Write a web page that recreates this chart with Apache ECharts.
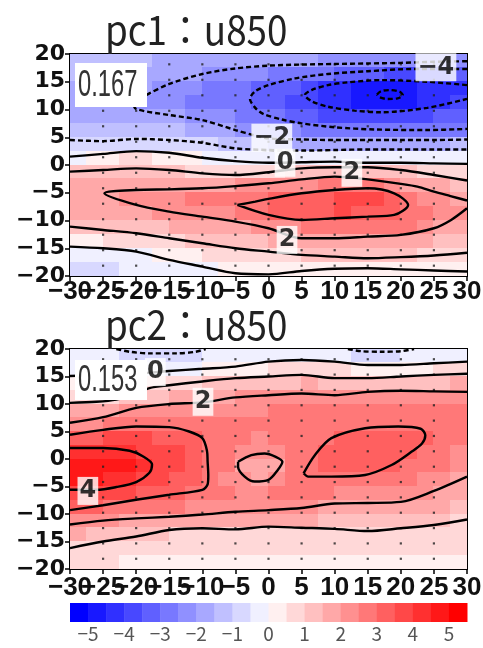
<!DOCTYPE html>
<html>
<head>
<meta charset="utf-8">
<script src="https://cdn.jsdelivr.net/npm/echarts@6/dist/echarts.min.js"></script>
<style>
html, body { margin: 0; padding: 0; background: #fff; }
#main { width: 483px; height: 648px; }
</style>
</head>
<body>
<div id="main"></div>
<script>
// cell centres of the shaded field (2.5 deg)
var cellX = [-28.75, -26.25, -23.75, -21.25, -18.75, -16.25, -13.75, -11.25, -8.75, -6.25, -3.75, -1.25,
             1.25, 3.75, 6.25, 8.75, 11.25, 13.75, 16.25, 18.75, 21.25, 23.75, 26.25, 28.75];
var cellY = [18.75, 16.25, 13.75, 11.25, 8.75, 6.25, 3.75, 1.25, -1.25, -3.75, -6.25, -8.75, -11.25, -13.75, -16.25, -18.75];

// pc1 : u850 (rows follow cellY, columns follow cellX)
var pc1Field = [
  [-1.3,-1.35,-1.4,-1.45,-1.5,-1.6,-1.7,-1.75,-1.8,-1.85,-1.9,-1.9,-1.9,-1.95,-2.0,-2.05,-2.1,-2.15,-2.2,-2.2,-2.25,-2.3,-2.35,-2.4],
  [-1.5,-1.55,-1.6,-1.65,-1.7,-1.8,-1.9,-2.0,-2.1,-2.2,-2.3,-2.45,-2.6,-2.75,-2.9,-3.0,-3.1,-3.3,-3.5,-3.6,-3.6,-3.6,-3.55,-3.5],
  [-1.7,-1.75,-1.8,-1.9,-1.95,-2.1,-2.3,-2.45,-2.6,-2.7,-2.8,-3.05,-3.3,-3.5,-3.85,-4.05,-4.3,-4.6,-4.8,-4.95,-4.8,-4.5,-4.35,-4.2],
  [-1.8,-1.85,-1.9,-2.0,-2.1,-2.3,-2.5,-2.6,-2.7,-2.8,-2.95,-3.2,-3.5,-3.7,-3.9,-4.15,-4.5,-4.6,-4.8,-4.9,-4.7,-4.3,-4.15,-3.95],
  [-1.7,-1.75,-1.8,-1.85,-1.9,-1.95,-2.0,-2.15,-2.3,-2.45,-2.6,-2.85,-3.0,-3.2,-3.4,-3.55,-3.7,-3.75,-3.8,-3.9,-3.8,-3.6,-3.5,-3.4],
  [-1.4,-1.45,-1.5,-1.5,-1.5,-1.5,-1.5,-1.6,-1.7,-1.95,-2.05,-2.15,-2.3,-2.45,-2.6,-2.7,-2.8,-2.85,-2.9,-2.9,-2.9,-2.9,-2.9,-2.9],
  [-0.8,-0.75,-0.7,-0.65,-0.6,-0.7,-0.8,-0.9,-1.0,-1.1,-1.2,-1.4,-1.6,-1.6,-1.6,-1.6,-1.6,-1.6,-1.6,-1.6,-1.6,-1.6,-1.55,-1.5],
  [-0.05,0.1,0.4,0.5,0.5,0.4,0.3,0.1,-0.05,-0.15,-0.2,-0.3,-0.4,-0.4,-0.4,-0.35,-0.3,-0.3,-0.3,-0.3,-0.3,-0.3,-0.3,-0.3],
  [1.0,1.05,1.1,1.15,1.2,1.1,1.0,0.95,0.9,0.85,0.85,0.85,0.9,1.0,1.1,1.2,1.3,1.3,1.3,1.2,1.0,0.85,0.65,0.55],
  [1.5,1.6,1.7,1.75,1.8,1.8,1.8,1.85,1.9,1.95,2.05,2.1,2.2,2.3,2.4,2.5,2.6,2.65,2.65,2.35,1.95,1.7,1.5,1.3],
  [1.7,1.8,1.95,2.1,2.2,2.3,2.4,2.5,2.6,2.7,2.8,2.9,3.0,3.15,3.3,3.4,3.5,3.5,3.5,3.3,2.95,2.4,2.2,1.95],
  [1.6,1.7,1.8,1.85,1.9,2.0,2.0,2.1,2.2,2.4,2.6,2.9,3.1,3.3,3.4,3.45,3.5,3.45,3.4,3.2,2.9,2.6,2.3,2.0],
  [1.0,1.1,1.2,1.25,1.3,1.4,1.5,1.6,1.7,1.8,1.9,2.1,2.3,2.45,2.6,2.65,2.7,2.7,2.7,2.6,2.5,2.2,1.95,1.7],
  [0.3,0.4,0.55,0.6,0.7,0.8,0.9,1.0,1.1,1.2,1.3,1.45,1.6,1.7,1.8,1.85,1.9,1.9,1.9,1.9,1.8,1.6,1.45,1.3],
  [-0.3,-0.3,-0.3,-0.2,-0.05,0.15,0.3,0.4,0.5,0.6,0.7,0.8,0.9,0.95,1.0,1.05,1.1,1.1,1.1,1.1,1.05,0.95,0.9,0.9],
  [-0.6,-0.6,-0.55,-0.5,-0.45,-0.3,-0.2,-0.1,-0.05,0.0,0.05,0.15,0.15,0.15,0.05,0.05,0.05,0.05,0.05,0.05,0.05,0.05,0.05,0.05]
];

// pc2 : u850
var pc2Field = [
  [-0.3,-0.3,-0.35,-0.7,-0.85,-0.9,-0.85,-0.6,-0.4,-0.35,-0.3,-0.25,-0.2,-0.15,-0.15,-0.2,-0.3,-0.8,-0.85,-0.8,-0.5,-0.3,-0.25,-0.2],
  [-0.1,-0.1,-0.1,-0.1,-0.1,-0.1,-0.1,-0.05,0.0,0.05,0.1,0.3,0.5,0.55,0.6,0.55,0.5,0.4,0.3,0.3,0.35,0.45,0.5,0.6],
  [0.3,0.35,0.4,0.45,0.5,0.65,0.8,0.95,1.1,1.2,1.25,1.3,1.4,1.45,1.5,1.45,1.35,1.35,1.35,1.4,1.4,1.45,1.45,1.5],
  [0.75,0.85,0.95,1.1,1.3,1.45,1.6,1.75,1.9,1.95,2.0,2.05,2.1,2.1,2.15,2.1,2.1,2.15,2.2,2.2,2.2,2.2,2.2,2.2],
  [1.5,1.65,1.8,2.0,2.25,2.3,2.35,2.4,2.4,2.45,2.45,2.45,2.5,2.5,2.55,2.55,2.55,2.6,2.6,2.6,2.6,2.55,2.55,2.5],
  [2.15,2.4,2.6,2.85,2.95,2.95,2.95,2.85,2.7,2.65,2.6,2.6,2.65,2.7,2.75,2.8,2.85,2.9,2.9,2.9,2.9,2.85,2.8,2.65],
  [3.3,3.4,3.5,3.55,3.5,3.4,3.3,3.05,2.85,2.7,2.5,2.45,2.55,2.7,2.85,2.95,3.05,3.15,3.2,3.2,3.15,3.0,2.85,2.6],
  [4.3,4.3,4.3,4.1,3.9,3.7,3.5,3.3,2.9,2.6,2.3,2.15,2.25,2.6,2.9,3.05,3.2,3.25,3.3,3.2,3.0,2.85,2.7,2.4],
  [4.8,4.8,4.7,4.5,4.1,3.75,3.55,3.35,2.9,2.5,1.95,1.85,1.9,2.5,2.95,3.15,3.2,3.25,3.2,3.0,2.8,2.65,2.5,2.2],
  [4.6,4.6,4.4,4.05,3.95,3.7,3.45,3.3,2.85,2.45,2.05,1.95,2.2,2.6,2.95,2.95,2.95,2.9,2.85,2.75,2.55,2.4,2.25,1.95],
  [3.8,3.75,3.7,3.55,3.4,3.25,3.1,2.95,2.6,2.5,2.45,2.45,2.5,2.55,2.6,2.5,2.4,2.35,2.35,2.3,2.3,2.1,1.85,1.7],
  [3.1,3.0,2.9,2.8,2.7,2.6,2.5,2.4,2.3,2.25,2.2,2.15,2.1,2.1,2.05,1.95,1.85,1.85,1.9,1.85,1.8,1.65,1.5,1.4],
  [2.3,2.15,2.0,1.95,1.9,1.85,1.8,1.7,1.6,1.6,1.6,1.6,1.6,1.55,1.5,1.4,1.3,1.3,1.35,1.35,1.35,1.2,1.05,0.95],
  [1.6,1.45,1.35,1.2,1.1,1.0,0.95,0.85,0.8,0.8,0.8,0.8,0.8,0.8,0.8,0.78,0.78,0.75,0.75,0.78,0.8,0.75,0.7,0.7],
  [0.95,0.9,0.8,0.75,0.7,0.7,0.7,0.65,0.6,0.6,0.6,0.6,0.6,0.6,0.55,0.55,0.5,0.5,0.5,0.55,0.55,0.5,0.5,0.5],
  [0.6,0.55,0.5,0.45,0.4,0.4,0.4,0.4,0.4,0.4,0.4,0.4,0.4,0.4,0.35,0.35,0.3,0.3,0.3,0.3,0.3,0.3,0.3,0.3]
];

// contour lines: [level, points]
var pc1Contours = [
  [-1, [[-30,4.5],[-25,4.3],[-20,4.7],[-15,4.5],[-10,4.0],[-5,3.0],[0,2.7],[5,2.6],[10,2.7],[15,2.8],[20,2.8],[25,2.8],[30,2.8]]],
  [-2, [[30,18.7],[25,18.6],[20,18.4],[15,18.3],[10,18.2],[5,18.1],[0,17.9],[-5,17.4],[-10,16.4],[-15,14.6],[-18.5,12.6],[-20.5,11.3],[-20,10.1],[-15,9.0],[-10,8.1],[-5,6.3],[-2,5.3],[0,4.8],[5,4.6],[10,4.5],[15,4.5],[20,4.5],[25,4.5],[30,4.6]]],
  [-3, [[30,17.3],[22,17.3],[15,16.9],[9,16.4],[4,15.6],[0,14.4],[-2,13.3],[-2.8,11.9],[-2,10.3],[-0.8,9.2],[2,8.2],[5,7.5],[10,6.8],[16,6.4],[24,6.3],[30,6.5]]],
  [-4, [[30,14.4],[24,15.0],[17,15.3],[12,14.9],[9,14.4],[6.5,13.5],[5.5,12.6],[6.5,11.5],[9,10.5],[13,9.8],[17,9.5],[24,10.3],[30,11.9]]],
  [-5, [[16.4,12.7],[17,13.3],[18.3,13.5],[19.8,13.2],[20.3,12.6],[19.5,12.0],[18,11.9],[16.8,12.2],[16.4,12.7]]],
  [0, [[-30,1.5],[-25,2.0],[-20,2.5],[-15,2.2],[-10,1.3],[-5,0.7],[0,0.4],[5,0.5],[10,0.6],[15,0.4],[20,0.4],[25,0.3],[30,0.2]]],
  [1, [[-30,-1.2],[-25,-0.9],[-20,-0.6],[-15,-0.9],[-10,-1.5],[-5,-1.8],[0,-1.3],[5,-0.6],[10,-0.4],[15,-0.4],[20,-0.9],[25,-1.8],[30,-2.8]]],
  [2, [[30,-6.4],[27.5,-5.6],[25,-4.8],[22.5,-3.9],[20,-3.4],[15,-2.6],[10,-2.1],[5,-2.6],[0,-3.3],[-5,-3.8],[-10,-4.2],[-15,-4.4],[-20,-4.5],[-24.8,-5.1],[-20,-7.2],[-15,-8.4],[-10,-9.3],[-5,-10.2],[0,-11.4],[5,-13.2],[10,-13.2],[15,-12.9],[20,-12.6],[25,-11.4],[27.6,-9.9],[30,-7.8]]],
  [3, [[-4.7,-7.2],[-2,-6.6],[0,-6.1],[5,-5.1],[10,-4.5],[15,-4.2],[19,-5.1],[21.1,-7.2],[19,-9.0],[15,-9.3],[10,-9.6],[5,-9.9],[0,-9.0],[-4.7,-7.2]]],
  [1, [[-30,-11.1],[-25,-11.7],[-20,-12.3],[-15,-13.2],[-10,-14.1],[-5,-15.0],[0,-15.6],[5,-16.2],[10,-16.5],[15,-16.8],[20,-16.6],[25,-16.3],[30,-15.8]]],
  [0, [[-30,-14.7],[-25,-15.0],[-20,-15.6],[-15,-17.1],[-10,-18.3],[-5,-19.5],[0,-19.7],[5,-19.1],[10,-18.7],[15,-18.6],[20,-18.8],[25,-19.0],[30,-19.2]]]
];

var pc2Contours = [
  [-1, [[-23,20],[-21,19.5],[-18,19.2],[-14,19.2],[-11,19.5],[-9.5,20]]],
  [-1, [[12,20],[14,19.6],[17,19.5],[20,19.6],[22,20]]],
  [0, [[-30,15.1],[-25,15.3],[-20,15.5],[-17,15.8],[-15,16.0],[-10,16.4],[-5,16.8],[0,17.7],[5,18.0],[10,17.7],[15,17.1],[20,17.1],[25,17.4],[30,17.7]]],
  [1, [[-30,10.2],[-26,10.4],[-23,10.8],[-20,11.8],[-18,12.9],[-15,13.4],[-10,14.1],[-5,14.7],[0,15.0],[5,15.3],[10,14.7],[15,14.7],[20,15.0],[25,15.3],[30,15.5]]],
  [2, [[-30,6.6],[-25,7.6],[-20,9.3],[-15,10.0],[-10,10.3],[-5,11.2],[0,11.6],[5,11.9],[10,11.6],[15,12.2],[20,12.4],[25,12.3],[30,12.2]]],
  [3, [[-30,4.4],[-25,5.3],[-20,5.9],[-15,5.8],[-12,5.0],[-10,3.8],[-9.3,1.5],[-9.2,-0.5],[-9.1,-3],[-9.2,-4.6],[-10,-5.6],[-15,-6.5],[-20,-7.4],[-25,-8.4],[-30,-9.3]]],
  [4, [[-30,2.0],[-25,2.0],[-21,1.5],[-19,0.5],[-17.6,-1.0],[-18,-2.5],[-20,-4.2],[-23,-5.1],[-26,-5.6],[-30,-5.6]]],
  [2, [[-4.6,-0.5],[-2.6,0.7],[-0.6,1.0],[1.1,0.4],[2.1,-0.5],[1.4,-2.0],[0,-3.8],[-2.1,-4.1],[-3.6,-3.2],[-4.6,-1.4],[-4.6,-0.5]]],
  [3, [[5.3,-2.6],[7,0.7],[9.5,3.8],[14.6,5.6],[19.6,5.9],[23,5.5],[23.7,4.3],[23.2,2.8],[21.6,1.3],[18.6,-1.1],[14.6,-2.9],[9.5,-3.2],[6,-3.2],[5.3,-2.6]]],
  [2, [[-30,-11.9],[-25,-11.2],[-20,-10.8],[-15,-10.5],[-10,-10.1],[-5,-9.6],[0,-9.3],[5,-8.9],[10,-8.1],[15,-8.0],[20,-7.8],[25,-5.8],[30,-3.2]]],
  [1, [[-30,-16.2],[-25,-15.0],[-20,-14.1],[-15,-12.9],[-10,-12.6],[-5,-12.8],[0,-12.3],[5,-12.5],[10,-12.7],[15,-13.1],[20,-12.6],[25,-12.0],[30,-11.0]]]
];

// contour labels [x, y, text]
var pc1Labels = [[25.3, 17.6, '\u22124'], [0.5, 4.9, '\u22122'], [2.5, 0.4, '0'], [12.6, -1.4, '2'], [2.8, -13.5, '2']];
var pc2Labels = [[-17.1, 15.8, '0'], [-9.9, 10.4, '2'], [-27.3, -5.8, '4']];

// significance dots
var dotX = [-25, -20, -15, -10, -5, 0, 5, 10, 15, 20, 25];
var dotY = [18.14, 15.35, 12.56, 9.77, 6.98, 4.19, 1.40, -1.40, -4.19, -6.98, -9.77, -12.56, -15.35, -18.14];

var titles = ['pc1\uff1au850', 'pc2\uff1au850'];
var ratios = ['0.167', '0.153'];

// colour bar
var barLevels = [-5.5,-5,-4.5,-4,-3.5,-3,-2.5,-2,-1.5,-1,-0.5,0,0.5,1,1.5,2,2.5,3,3.5,4,4.5,5,5.5];

var palette = [];
for (var k = 0; k <= 10; k++) {
  var c = k * 24;
  palette.push('rgb(' + c + ',' + c + ',255)');
}
for (var m = 0; m <= 10; m++) {
  var c2 = 240 - m * 24;
  palette.push('rgb(255,' + c2 + ',' + c2 + ')');
}
function colorOf(v) {
  var i = Math.floor((v + 5.5) / 0.5);
  return palette[Math.max(0, Math.min(21, i))];
}
function minus(v) {
  return String(v).replace('-', '\u2212');
}
function $each(a, f) { for (var i = 0; i < a.length; i++) f(a[i], i); }

function cellData(field) {
  var out = [];
  for (var j = 0; j < cellY.length; j++) {
    for (var i = 0; i < cellX.length; i++) {
      out.push([cellX[i], cellY[j], field[j][i]]);
    }
  }
  return out;
}
function dotData() {
  var out = [];
  $each(dotY, function (y) { $each(dotX, function (x) { out.push([x, y]); }); });
  return out;
}

function renderCell(params, api) {
  var x = api.value(0), y = api.value(1);
  var p0 = api.coord([x - 1.25, y + 1.25]);
  var p1 = api.coord([x + 1.25, y - 1.25]);
  return {
    type: 'rect',
    shape: { x: Math.floor(p0[0]), y: Math.floor(p0[1]), width: Math.ceil(p1[0] - p0[0]) + 1, height: Math.ceil(p1[1] - p0[1]) + 1 },
    style: { fill: colorOf(api.value(2)) }
  };
}
function renderBar(params, api) {
  var p0 = api.coord([api.value(0), 1]);
  var p1 = api.coord([api.value(1), 0]);
  return {
    type: 'rect',
    shape: { x: p0[0], y: p0[1], width: p1[0] - p0[0] + 0.5, height: p1[1] - p0[1] },
    style: { fill: palette[api.value(2)] }
  };
}

var grids = [
  { left: 70, top: 54, width: 397, height: 222 },
  { left: 70, top: 349, width: 397, height: 220 },
  { left: 70, top: 603, width: 397, height: 19 }
];
$each(grids, function (g, i) {
  g.outerBoundsMode = 'none';
  g.containLabel = false;
  g.show = i < 2;
  g.borderColor = '#000';
  g.borderWidth = 2;
  g.backgroundColor = 'transparent';
});

// x labels overlap like in the original, so tens and odd fives sit on two stacked axes
function xAxisFor(p, odd) {
  return {
    type: 'value', gridIndex: p, position: 'bottom', offset: 0, min: -30, max: 30, interval: 5,
    axisLine: { show: !odd, onZero: false, lineStyle: { color: '#000', width: 2 } },
    axisTick: { show: !odd, length: 5, lineStyle: { color: '#000', width: 1.5 } },
    axisLabel: {
      margin: p === 0 ? 3 : 6, hideOverlap: false, showMinLabel: true, showMaxLabel: true,
      color: '#111', fontFamily: 'Liberation Sans', fontWeight: 'bold', fontSize: 26,
      formatter: function (v) { return ((Math.abs(v) % 10 === 5) === odd) ? minus(v) : ''; }
    },
    splitLine: { show: false }
  };
}

var xAxes = [], yAxes = [], series = [];
$each([0, 1], function (p) {
  xAxes.push(xAxisFor(p, false));
  xAxes.push(xAxisFor(p, true));
  yAxes.push({
    type: 'value', gridIndex: p, min: -20, max: 20, interval: 5,
    axisLine: { show: true, onZero: false, lineStyle: { color: '#000', width: 2 } },
    axisTick: { show: true, length: 5, lineStyle: { color: '#000', width: 1.5 } },
    axisLabel: {
      margin: 5, hideOverlap: false, showMinLabel: true, showMaxLabel: true,
      color: '#111', fontFamily: 'DejaVu Sans', fontWeight: 'bold', fontSize: 22, formatter: minus
    },
    splitLine: { show: false }
  });

  var xi = p * 2;
  var field = p === 0 ? pc1Field : pc2Field;
  var contours = p === 0 ? pc1Contours : pc2Contours;
  var labels = p === 0 ? pc1Labels : pc2Labels;

  series.push({
    type: 'custom', xAxisIndex: xi, yAxisIndex: p, clip: true, silent: true, z: 1,
    renderItem: renderCell, encode: { x: 0, y: 1 }, data: cellData(field)
  });
  series.push({
    type: 'scatter', xAxisIndex: xi, yAxisIndex: p, silent: true, z: 3,
    symbol: 'rect', symbolSize: 2.2, itemStyle: { color: '#222' }, data: dotData()
  });
  $each(contours, function (c) {
    series.push({
      type: 'line', xAxisIndex: xi, yAxisIndex: p, clip: true, silent: true, z: 4,
      symbol: 'none', smooth: 0.3, data: c[1],
      lineStyle: { color: '#000', width: 2.4, type: c[0] < 0 ? [5, 3] : 'solid' }
    });
  });
  series.push({
    type: 'scatter', xAxisIndex: xi, yAxisIndex: p, silent: true, z: 6,
    symbol: 'rect', symbolSize: 1, itemStyle: { color: 'rgba(0,0,0,0)' },
    data: labels.map(function (l) { return { name: l[2], value: [l[0], l[1]] }; }),
    label: {
      show: true, position: 'inside', formatter: '{b}', color: '#000',
      fontFamily: 'DejaVu Sans', fontWeight: 'bold', fontSize: 24, lineHeight: 27,
      backgroundColor: '#fff', padding: [1, 2, 0, 2]
    }
  });
});

// colour bar axes
xAxes.push({
  type: 'value', gridIndex: 2, min: -5.5, max: 5.5, interval: 0.5,
  axisLine: { show: false }, axisTick: { show: false }, splitLine: { show: false },
  axisLabel: {
    margin: 2, hideOverlap: false, showMinLabel: true, showMaxLabel: true,
    color: '#555', fontFamily: 'Noto Sans CJK JP', fontSize: 19,
    formatter: function (v) { return Math.round(v) === v ? minus(v) : ''; }
  }
});
yAxes.push({ type: 'value', gridIndex: 2, min: 0, max: 1, show: false });
var barData = [];
for (var b = 0; b < barLevels.length - 1; b++) barData.push([barLevels[b], barLevels[b + 1], b]);
series.push({
  type: 'custom', xAxisIndex: 4, yAxisIndex: 2, silent: true,
  renderItem: renderBar, encode: { x: [0, 1] }, data: barData
});

var graphics = [];
$each([0, 1], function (p) {
  graphics.push({
    type: 'text', x: 105, y: p === 0 ? 30 : 325, scaleX: 0.92, z: 10,
    style: { text: titles[p], font: '40px "Noto Sans CJK JP"', fill: '#222', textAlign: 'left', textVerticalAlign: 'middle', verticalAlign: 'middle' }
  });
  var top = p === 0 ? 63 : 360;
  var h = p === 0 ? 44 : 40;
  graphics.push({ type: 'rect', z: 10, shape: { x: 75, y: top, width: 72, height: h }, style: { fill: '#fff' } });
  graphics.push({
    type: 'text', x: 78, y: top + h / 2 + 1, scaleX: 0.66, z: 11,
    style: { text: ratios[p], font: '36px "Liberation Sans"', fill: '#333', textAlign: 'left', textVerticalAlign: 'middle', verticalAlign: 'middle' }
  });
});

var myChart = echarts.init(document.getElementById('main'), null, { renderer: 'canvas' });
myChart.setOption({
  animation: false,
  backgroundColor: '#fff',
  grid: grids,
  xAxis: xAxes,
  yAxis: yAxes,
  series: series,
  graphic: graphics
});
</script>
</body>
</html>
